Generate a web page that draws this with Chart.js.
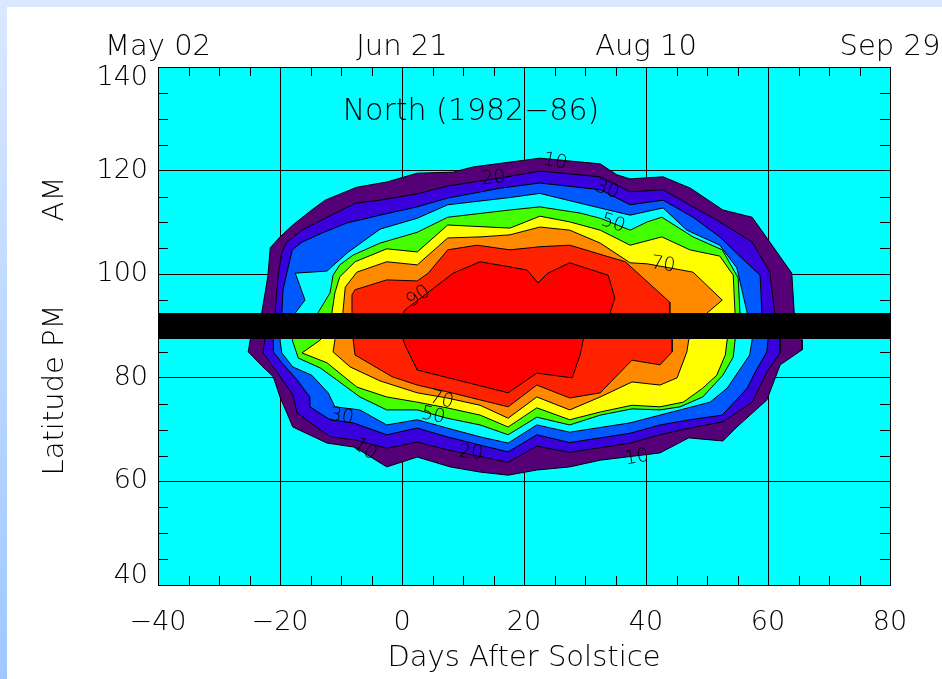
<!DOCTYPE html>
<html><head><meta charset="utf-8">
<script src="https://cdn.jsdelivr.net/npm/chart.js@4"></script>
<style>
html,body{margin:0;padding:0;width:942px;height:679px;overflow:hidden;}
body{background:linear-gradient(180deg,#dae8ff 0%,#9ec8ff 100%);position:relative;}
#panel{position:absolute;left:7px;top:7px;width:935px;height:672px;background:#fff;}
#c{position:absolute;left:0;top:0;}
</style></head><body>
<div id="panel"></div>
<canvas id="c" width="960" height="679"></canvas>
<script>
// ---- data (days after solstice, latitude) ----
const levels = [10,20,30,40,50,60,70,80,90];
const level10 = [[-23.0,92.5],[-22.0,99.5],[-21.6,105.1],[-20.0,107.2],[-17.9,109.5],[-14.8,112.4],[-12.6,114.3],[-7.4,116.8],[-2.5,117.8],[2.5,119.5],[8.4,119.7],[11.6,120.7],[22.6,122.4],[32.5,121.3],[35.2,119.2],[37.4,118.4],[42.8,118.8],[47.3,116.6],[52.6,112.4],[57.4,111.0],[60.3,106.2],[63.9,100.2],[64.3,92.5],
  [65.6,87.3],[65.6,85.4],[62.0,82.5],[59.8,75.7],[54.9,70.5],[52.6,67.8],[47.0,68.4],[42.3,65.5],[32.5,64.1],[27.5,62.8],[22.1,62.2],[17.4,61.2],[12.8,61.8],[7.9,62.8],[2.5,64.7],[-2.5,62.8],[-7.7,66.6],[-12.3,67.4],[-17.9,70.5],[-20.0,76.3],[-21.1,80.2],[-22.8,82.1],[-25.2,85.0],[-24.9,87.3]];
const level20 = [[-20.8,92.5],[-20.3,99.8],[-19.7,104.1],[-18.9,106.2],[-16.4,108.5],[-13.1,110.5],[-7.7,113.7],[-3.6,114.3],[2.5,115.5],[7.4,117.0],[17.2,118.8],[22.6,119.9],[32.5,118.8],[37.4,115.9],[42.8,116.3],[47.7,113.0],[52.1,110.1],[57.4,106.2],[60.3,100.4],[61.1,92.5],
  [62.0,87.3],[62.0,84.8],[59.8,81.1],[57.4,75.3],[52.6,71.5],[47.2,70.3],[42.3,69.0],[37.4,67.4],[27.5,65.6],[22.1,66.8],[17.4,63.7],[7.4,66.1],[2.5,67.6],[-2.5,66.4],[-7.7,68.0],[-11.8,68.6],[-17.2,73.2],[-17.9,76.7],[-21.1,82.1],[-22.8,84.8],[-22.5,87.3]];
const level30 = [[-19.7,92.5],[-19.5,97.0],[-18.0,104.7],[-16.4,106.2],[-13.0,108.0],[-9.0,109.9],[-3.6,111.4],[2.5,113.0],[7.5,114.7],[16.1,116.6],[22.6,117.6],[32.5,116.3],[37.4,113.4],[42.8,114.3],[47.7,111.0],[52.1,107.2],[55.7,103.1],[58.7,99.8],[59.0,92.5],
  [60.0,87.3],[59.8,85.0],[57.9,81.1],[56.6,78.0],[52.5,72.8],[47.2,71.9],[42.3,70.9],[37.4,69.3],[27.5,67.5],[22.1,69.0],[17.4,65.7],[12.8,67.0],[7.4,68.6],[2.5,70.3],[-2.5,69.0],[-8.0,71.3],[-11.8,71.9],[-15.1,74.4],[-15.1,76.3],[-17.2,79.6],[-19.7,82.9],[-21.1,85.0],[-21.1,87.3]];
const level40 = [[-17.5,92.5],[-15.9,95.0],[-17.5,100.2],[-12.3,100.6],[-9.0,104.1],[-3.6,108.7],[2.5,110.8],[7.5,113.4],[17.7,114.8],[22.6,115.6],[29.2,113.7],[37.4,111.4],[42.8,112.8],[46.7,108.5],[52.1,105.6],[54.9,101.2],[56.6,92.5],
  [57.4,87.3],[57.0,84.4],[55.1,81.1],[53.3,78.0],[50.5,75.3],[45.6,73.8],[42.3,72.8],[37.4,71.3],[27.5,69.5],[22.1,70.9],[17.4,67.4],[12.8,68.6],[7.4,70.3],[2.5,71.9],[-2.5,70.9],[-6.9,73.8],[-11.0,74.4],[-12.1,77.1],[-14.8,80.5],[-17.9,82.1],[-19.7,84.8],[-20.0,87.3]];
const level50 = [[-13.8,92.5],[-11.8,96.4],[-11.3,99.8],[-10.2,101.8],[-8.0,103.7],[-3.6,106.0],[2.5,108.1],[7.5,111.0],[17.7,112.4],[22.6,113.0],[29.2,111.8],[32.5,110.8],[37.4,108.5],[40.2,110.1],[42.6,111.0],[47.7,107.2],[52.5,104.7],[55.1,99.3],[55.4,92.5],
  [54.6,87.3],[54.3,84.0],[52.6,80.5],[49.3,76.3],[45.6,74.4],[42.3,73.8],[37.7,74.0],[32.5,72.8],[27.5,70.9],[22.1,72.4],[17.4,69.0],[12.8,70.9],[7.4,72.2],[2.5,73.8],[-2.5,73.8],[-6.9,76.3],[-10.7,79.6],[-13.4,81.9],[-17.0,83.8],[-18.0,87.3]];
const level60 = [[-11.5,92.5],[-11.0,96.4],[-10.2,99.5],[-7.7,102.4],[-2.5,104.9],[2.5,104.3],[7.5,109.5],[17.7,108.9],[22.6,111.2],[27.5,110.1],[32.5,108.5],[37.4,105.6],[42.6,107.2],[47.2,104.7],[52.1,103.5],[54.3,99.8],[54.6,92.5],
  [53.3,87.3],[53.0,84.4],[51.6,80.5],[49.3,78.0],[46.1,75.3],[42.3,74.4],[37.7,74.7],[32.5,73.4],[27.5,71.9],[22.1,74.2],[17.4,70.5],[12.8,72.8],[7.4,74.2],[2.5,75.3],[-2.5,76.3],[-7.4,78.2],[-12.3,82.9],[-16.4,84.8],[-13.4,87.3]];
const level70 = [[-9.7,92.5],[-9.3,97.5],[-7.4,100.4],[-2.5,102.4],[2.5,101.8],[7.5,107.0],[12.8,107.2],[17.7,107.6],[22.6,109.1],[27.5,108.5],[32.5,106.0],[37.4,102.2],[40.2,102.0],[47.7,100.4],[52.5,95.0],[50.0,92.5],
  [47.0,87.3],[46.7,85.0],[45.1,80.0],[42.3,78.6],[37.7,79.2],[32.5,76.3],[27.5,73.8],[22.1,76.3],[17.4,72.2],[12.8,74.7],[7.4,76.1],[2.5,77.1],[-3.6,79.4],[-8.5,82.1],[-11.3,85.0],[-11.0,87.3]];
const level80 = [[-8.2,92.5],[-8.2,96.0],[-7.7,97.0],[-2.5,98.9],[2.5,98.7],[4.3,100.2],[7.5,104.7],[12.3,105.6],[17.7,104.7],[22.6,105.3],[27.5,105.6],[36.6,102.4],[43.9,94.6],[43.9,92.5],
  [44.3,87.3],[44.3,85.0],[42.3,82.5],[37.7,83.4],[32.5,77.1],[27.5,76.1],[22.1,78.6],[17.4,74.4],[7.4,77.3],[2.5,78.6],[-1.6,80.2],[-7.7,84.4],[-8.0,87.3]];
const level90 = [[0.2,92.5],[0.5,93.1],[5.4,97.5],[8.4,100.2],[12.8,102.4],[17.7,101.4],[20.5,100.8],[22.3,98.3],[23.9,100.2],[27.5,102.2],[33.8,99.8],[34.9,95.4],[34.1,92.5],
  [29.7,87.3],[29.2,84.4],[27.9,80.0],[22.1,80.9],[17.4,77.1],[2.5,81.5],[0.5,86.3],[0.2,87.3]];
const contours = [level10,level20,level30,level40,level50,level60,level70,level80,level90];
const levelColors = ['#560078','#3a00dc','#0058ff','#00ffff','#44ff00','#ffff00','#ff8a00','#ff2200','#ff0000'];

const barDays = [-40, 80];
const barLats = [87.5, 92.5];

const topTickValues = [-40, 0, 40, 80];
const topTickLabels = ['May 02', 'Jun 21', 'Aug 10', 'Sep 29'];

const labelTexts  = ['10','20','30','50','70','90','70','50','30','10','20','10'];
const labelDays   = [25.1, 15.0, 33.6, 34.6, 42.8, 2.7, 6.5, 5.1, -9.9, -6.1, 11.3, 38.5];
const labelLats   = [121.7, 118.5, 116.3, 109.8, 101.8, 95.7, 75.7, 72.7, 72.5, 66.2, 65.5, 64.6];
const labelAngles = [12, -5, 20, 18, 8, -35, 15, 12, 10, 35, 5, -10];

const plotTitle = 'North (1982\u221286)';
const titleDay = 11.3, titleLat = 131.2;
const xTitle = 'Days After Solstice';
const yTitle = 'Latitude PM\u00a0\u00a0\u00a0\u00a0\u00a0\u00a0\u00a0\u00a0\u00a0AM';

// ---- chart ----
const FAM = '"DejaVu Sans", sans-serif';
const WT = '200';

const datasets = levels.map((lv, i) => {
  const ring = contours[i].concat([contours[i][0]]);
  return {
    label: lv + '%',
    data: ring.map(p => ({x: p[0], y: p[1]})),
    showLine: true, fill: false, tension: 0,
    borderColor: '#000', borderWidth: 1,
    backgroundColor: levelColors[i],
    pointRadius: 0, pointHoverRadius: 0,
    order: 100 - lv
  };
});
datasets.push({
  label: 'gap',
  data: [{x: barDays[0], y: barLats[0]}, {x: barDays[1], y: barLats[0]}, {x: barDays[1], y: barLats[1]}, {x: barDays[0], y: barLats[1]}],
  showLine: true, fill: false, borderColor: 'rgba(0,0,0,0)', borderWidth: 1,
  backgroundColor: '#000', pointRadius: 0, order: 0
});

const areaBg = {
  id: 'areaBg',
  beforeDraw(chart) {
    const a = chart.chartArea, ctx = chart.ctx;
    ctx.save(); ctx.fillStyle = '#00ffff';
    ctx.fillRect(a.left, a.top, a.right - a.left, a.bottom - a.top);
    ctx.restore();
    // keep the end labels of the latitude axis inside the frame (as in the original plot)
    const ys = chart.scales.y;
    const items = ys.getLabelItems(a);
    items.forEach(it => {
      const t = it.options && it.options.translation;
      if (!t) return;
      if (it.label === String(ys.max)) t[1] += 11;
      else if (it.label === String(ys.min)) t[1] -= 9;
    });
  }
};

const polygonFill = {
  id: 'polygonFill',
  beforeDatasetDraw(chart, args) {
    const pts = args.meta.data;
    if (!pts || !pts.length) return;
    const ds = chart.data.datasets[args.index];
    const ctx = chart.ctx, a = chart.chartArea;
    ctx.save();
    ctx.beginPath(); ctx.rect(a.left, a.top, a.right - a.left, a.bottom - a.top); ctx.clip();
    ctx.beginPath();
    pts.forEach((p, i) => i ? ctx.lineTo(p.x, p.y) : ctx.moveTo(p.x, p.y));
    ctx.closePath();
    ctx.fillStyle = ds.backgroundColor;
    ctx.fill();
    ctx.restore();
  }
};

const decor = {
  id: 'decor',
  afterDraw(chart) {
    const {ctx, chartArea: a} = chart;
    const x = chart.scales.x, y = chart.scales.y;
    ctx.save();
    ctx.strokeStyle = '#000'; ctx.lineWidth = 1;
    ctx.beginPath();
    for (let v = x.min; v <= x.max; v += 5) {
      if (v % 20 === 0) continue;
      const px = Math.round(x.getPixelForValue(v)) + 0.5;
      ctx.moveTo(px, a.bottom); ctx.lineTo(px, a.bottom - 9);
      ctx.moveTo(px, a.top); ctx.lineTo(px, a.top + 9);
    }
    for (let v = y.min; v <= y.max; v += 5) {
      if (v % 20 === 0) continue;
      const py = Math.round(y.getPixelForValue(v)) + 0.5;
      ctx.moveTo(a.left, py); ctx.lineTo(a.left + 10, py);
      ctx.moveTo(a.right, py); ctx.lineTo(a.right - 10, py);
    }
    ctx.stroke();
    ctx.fillStyle = '#000';
    ctx.textAlign = 'center'; ctx.textBaseline = 'middle';
    ctx.font = WT + ' 19px ' + FAM;
    labelTexts.forEach((t, i) => {
      ctx.save();
      ctx.translate(x.getPixelForValue(labelDays[i]), y.getPixelForValue(labelLats[i]));
      ctx.rotate(labelAngles[i] * Math.PI / 180);
      ctx.fillText(t, 0, 0);
      ctx.restore();
    });
    ctx.font = WT + ' 30px ' + FAM;
    ctx.fillText(plotTitle, x.getPixelForValue(titleDay), y.getPixelForValue(titleLat));
    ctx.restore();
  }
};

Chart.defaults.color = '#000';
const fmt = v => (v < 0 ? '\u2212' + Math.abs(v) : String(v));

new Chart(document.getElementById('c').getContext('2d'), {
  type: 'scatter',
  data: {datasets},
  options: {
    responsive: false, animation: false, devicePixelRatio: 1,
    layout: {padding: {left: 0, top: 0, right: 70, bottom: 0}},
    plugins: {legend: {display: false}, tooltip: {enabled: false}},
    events: [],
    scales: {
      x: {
        type: 'linear', position: 'bottom', min: -40, max: 80, z: 1,
        ticks: {stepSize: 20, autoSkip: false, maxRotation: 0, padding: 22, color: '#000',
                font: {family: FAM, size: 27, weight: WT}, callback: v => fmt(v)},
        grid: {color: '#000', lineWidth: 1, drawTicks: false},
        border: {display: true, color: '#000', width: 1},
        title: {display: true, text: xTitle, color: '#000', font: {family: FAM, size: 29, weight: WT}, padding: {top: 0, bottom: 3}},
        afterFit: s => { s.height = 94; }
      },
      x2: {
        type: 'linear', position: 'top', min: -40, max: 80, z: 1,
        afterBuildTicks: s => { s.ticks = topTickValues.map(v => ({value: v})); },
        ticks: {autoSkip: false, maxRotation: 0, padding: 2, color: '#000',
                font: {family: FAM, size: 29, weight: WT},
                callback: v => topTickLabels[topTickValues.indexOf(v)]},
        grid: {display: false, drawTicks: false},
        border: {display: true, color: '#000', width: 1},
        afterFit: s => { s.height = 67; }
      },
      y: {
        type: 'linear', position: 'left', min: 40, max: 140, z: 1,
        ticks: {stepSize: 20, autoSkip: false, padding: 10, color: '#000',
                font: {family: FAM, size: 27, weight: WT}},
        grid: {color: '#000', lineWidth: 1, drawTicks: false},
        border: {display: true, color: '#000', width: 1},
        title: {display: true, text: yTitle, color: '#000', font: {family: FAM, size: 29, weight: WT}, padding: {top: 38, bottom: 0}},
        afterFit: s => { s.width = 158; }
      }
    }
  },
  plugins: [areaBg, polygonFill, decor]
});
</script></body></html>
